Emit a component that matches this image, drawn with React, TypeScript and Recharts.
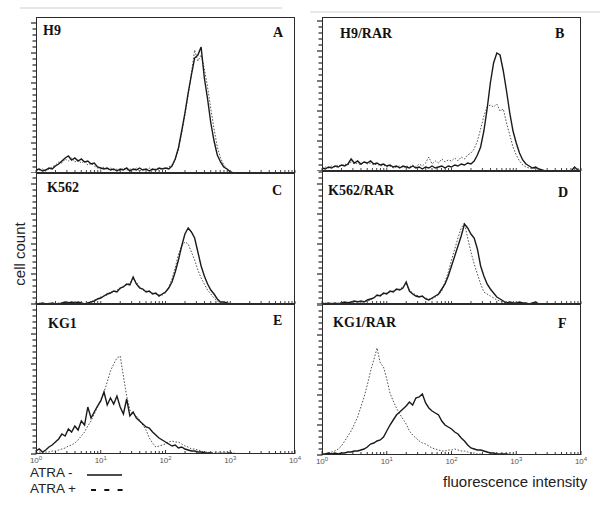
import React from 'react';
import { LineChart, Line, XAxis, YAxis } from 'recharts';

// log10 fluorescence intensity channels (10^0 .. 10^4)
const logIntensity = [
  0, 0.05, 0.1, 0.15, 0.2, 0.25, 0.3, 0.35, 0.4, 0.45,
  0.5, 0.55, 0.6, 0.65, 0.7, 0.75, 0.8, 0.85, 0.9, 0.95,
  1, 1.05, 1.1, 1.15, 1.2, 1.25, 1.3, 1.35, 1.4, 1.45,
  1.5, 1.55, 1.6, 1.65, 1.7, 1.75, 1.8, 1.85, 1.9, 1.95,
  2, 2.05, 2.1, 2.15, 2.2, 2.25, 2.3, 2.35, 2.4, 2.45,
  2.5, 2.55, 2.6, 2.65, 2.7, 2.75, 2.8, 2.85, 2.9, 2.95,
  3, 3.05, 3.1, 3.15, 3.2, 3.25, 3.3, 3.35, 3.4, 3.45,
  3.5, 3.55, 3.6, 3.65, 3.7, 3.75, 3.8, 3.85, 3.9, 3.95,
  4,
];

const h9Minus = [
  3, 4, 2, 3, 5, 4, 7, 9, 12, 15,
  17, 13, 15, 12, 14, 11, 12, 9, 10, 6,
  5, 4, 5, 3, 4, 2, 4, 3, 5, 2,
  4, 3, 5, 3, 4, 2, 4, 3, 5, 4,
  5, 4, 7, 14, 25, 42, 60, 80, 98, 115,
  118, 126, 95, 74, 50, 32, 18, 11, 6, 4,
  1, 0, 0, 0, 0, 0, 0, 0, 0, 0,
  0, 0, 0, 0, 0, 0, 0, 0, 0, 0,
  0,
];
const h9Plus = [
  2, 3, 4, 2, 4, 6, 8, 11, 10, 14,
  12, 15, 11, 13, 10, 12, 8, 10, 7, 5,
  4, 6, 3, 5, 3, 4, 2, 5, 3, 4,
  3, 5, 2, 4, 3, 5, 3, 4, 3, 5,
  4, 6, 8, 13, 24, 40, 58, 78, 100, 123,
  112, 118, 104, 86, 64, 44, 26, 15, 8, 4,
  2, 0, 0, 0, 0, 0, 0, 0, 0, 0,
  0, 0, 0, 0, 0, 0, 0, 0, 0, 0,
  0,
];

const h9RarMinus = [
  3, 2, 4, 3, 5, 4, 6, 5, 7, 12,
  8, 10, 7, 9, 8, 10, 7, 8, 6, 7,
  5, 6, 4, 5, 3, 5, 4, 3, 5, 3,
  4, 2, 4, 3, 5, 3, 4, 5, 3, 5,
  4, 6, 5, 7, 6, 8, 7, 10, 16, 24,
  40, 62, 88, 108, 118, 116, 100, 80, 58, 40,
  28, 18, 11, 7, 5, 3, 4, 2, 1, 0,
  0, 0, 0, 0, 0, 0, 0, 0, 4, 1,
  0,
];
const h9RarPlus = [
  2, 4, 3, 5, 4, 6, 5, 7, 6, 9,
  7, 8, 6, 9, 7, 8, 6, 7, 5, 6,
  4, 5, 3, 4, 5, 3, 5, 4, 6, 4,
  7, 5, 8, 14, 7, 10, 8, 12, 9, 11,
  10, 13, 10, 14, 12, 16, 18, 22, 30, 42,
  55, 64, 66, 64, 67, 60, 62, 48, 36, 24,
  16, 10, 6, 4, 3, 2, 3, 1, 0, 0,
  0, 0, 0, 0, 0, 0, 0, 0, 0, 0,
  0,
];

const k562Minus = [
  0, 0, 1, 0, 0, 1, 0, 0, 1, 2,
  1, 2, 1, 2, 1, 0, 1, 2, 3, 5,
  6, 8, 10, 11, 13, 12, 16, 17, 20, 19,
  27, 20, 16, 15, 12, 13, 10, 11, 8, 10,
  12, 16, 22, 32, 44, 58, 70, 76, 72, 66,
  52, 38, 28, 20, 14, 10, 5, 2, 2, 1,
  0, 0, 0, 0, 0, 0, 0, 0, 0, 0,
  0, 0, 0, 0, 0, 0, 0, 0, 0, 0,
  0,
];
const k562Plus = [
  0, 1, 0, 0, 1, 0, 0, 1, 0, 1,
  2, 1, 2, 1, 1, 0, 1, 2, 4, 5,
  7, 8, 9, 12, 12, 14, 15, 18, 19, 21,
  25, 22, 17, 14, 13, 12, 11, 10, 9, 9,
  11, 17, 25, 36, 50, 58, 62, 60, 52, 44,
  34, 26, 20, 14, 10, 6, 3, 1, 1, 0,
  0, 0, 0, 0, 0, 0, 0, 0, 0, 0,
  0, 0, 0, 0, 0, 0, 0, 0, 0, 0,
  0,
];

const k562RarMinus = [
  1, 0, 1, 0, 1, 0, 1, 2, 1, 2,
  3, 2, 3, 2, 4, 5, 6, 9, 8, 11,
  10, 13, 12, 15, 14, 16, 22, 13, 10, 8,
  7, 8, 5, 4, 6, 8, 10, 15, 20, 28,
  38, 48, 58, 68, 80, 76, 70, 66, 55, 38,
  28, 20, 15, 11, 7, 5, 3, 1, 2, 1,
  1, 2, 1, 1, 0, 1, 2, 0, 0, 0,
  0, 0, 0, 0, 0, 0, 0, 0, 0, 0,
  0,
];
const k562RarPlus = [
  0, 1, 0, 1, 0, 1, 1, 1, 2, 1,
  2, 3, 2, 3, 3, 4, 6, 8, 9, 10,
  11, 12, 13, 14, 15, 17, 20, 14, 11, 9,
  8, 7, 6, 5, 5, 7, 9, 13, 22, 32,
  44, 55, 66, 76, 81, 66, 52, 40, 30, 20,
  12, 10, 8, 6, 4, 3, 2, 1, 1, 0,
  0, 0, 0, 0, 0, 0, 0, 0, 0, 0,
  0, 0, 0, 0, 0, 0, 0, 0, 0, 0,
  0,
];

const kg1Minus = [
  3, 5, 2, 4, 7, 9, 12, 15, 20, 18,
  25, 22, 28, 24, 33, 29, 47, 36, 42, 48,
  53, 62, 49, 56, 50, 58, 47, 40, 55, 38,
  42, 36, 33, 30, 27, 26, 22, 19, 16, 14,
  12, 10, 8, 9, 6, 7, 5, 4, 3, 3,
  2, 2, 1, 1, 1, 0, 0, 0, 0, 0,
  1, 0, 0, 0, 0, 0, 0, 0, 0, 0,
  0, 0, 0, 0, 0, 0, 0, 0, 0, 0,
  0,
];
const kg1Plus = [
  1, 2, 1, 2, 2, 3, 3, 4, 5, 6,
  8, 9, 11, 14, 18, 22, 28, 33, 40, 47,
  54, 62, 72, 83, 90, 96, 98, 78, 58, 44,
  40, 38, 34, 29, 24, 16, 11, 7, 8, 9,
  10, 12, 13, 12, 12, 10, 8, 7, 5, 5,
  4, 3, 2, 2, 1, 1, 1, 1, 1, 1,
  2, 1, 0, 0, 0, 0, 0, 0, 0, 0,
  0, 0, 0, 0, 0, 0, 0, 0, 0, 0,
  0,
];

const kg1RarMinus = [
  1, 1, 2, 1, 2, 1, 2, 2, 3, 3,
  4, 4, 5, 6, 8, 11, 12, 14, 15, 18,
  24, 30, 35, 40, 43, 46, 49, 53, 50, 57,
  58, 61, 52, 47, 44, 42, 40, 34, 30, 28,
  26, 23, 21, 17, 14, 10, 7, 6, 5, 5,
  4, 3, 2, 2, 1, 1, 1, 1, 0, 0,
  0, 0, 0, 0, 0, 0, 0, 0, 0, 0,
  0, 0, 0, 0, 0, 0, 0, 0, 0, 0,
  0,
];
const kg1RarPlus = [
  0, 1, 2, 3, 4, 6, 9, 14, 19, 24,
  31, 38, 48, 58, 70, 84, 95, 107, 92, 88,
  76, 62, 54, 47, 41, 36, 31, 24, 20, 17,
  14, 12, 11, 9, 7, 6, 5, 4, 4, 5,
  5, 6, 5, 4, 4, 3, 2, 2, 1, 1,
  0, 0, 0, 0, 0, 0, 0, 0, 0, 0,
  0, 0, 0, 0, 0, 0, 0, 0, 0, 0,
  0, 0, 0, 0, 0, 0, 0, 0, 0, 0,
  0,
];

// axis ticks: decades (labelled) and log minor ticks
const decadeTicks = [0, 1, 2, 3, 4];
const minorTicks = [
  0.301, 0.477, 0.602, 0.699, 0.778, 0.845, 0.903, 0.954,
  1.301, 1.477, 1.602, 1.699, 1.778, 1.845, 1.903, 1.954,
  2.301, 2.477, 2.602, 2.699, 2.778, 2.845, 2.903, 2.954,
  3.301, 3.477, 3.602, 3.699, 3.778, 3.845, 3.903, 3.954,
];
const countTicks = [
  0, 6, 12, 18, 24, 30, 36, 42, 48, 54, 60, 66, 72, 78, 84, 90, 96, 102,
  108, 114, 120, 126, 132, 138, 144, 150,
];

const panelNames = ['H9', 'H9/RAR', 'K562', 'K562/RAR', 'KG1', 'KG1/RAR'];
const panelLetters = ['A', 'B', 'C', 'D', 'E', 'F'];
const minusSeries = [h9Minus, h9RarMinus, k562Minus, k562RarMinus, kg1Minus, kg1RarMinus];
const plusSeries = [h9Plus, h9RarPlus, k562Plus, k562RarPlus, kg1Plus, kg1RarPlus];

// layout (pixels)
const PLOT_W = 259;
const Y_AXIS_W = 6;
const RIGHT_PAD = 12;
const layout = [
  { left: 36, top: 17, height: 156, bottom: false, nameX: 43, nameY: 35, letterX: 273, letterY: 37 },
  { left: 322, top: 17, height: 154, bottom: false, nameX: 340, nameY: 38, letterX: 555, letterY: 38 },
  { left: 36, top: 173, height: 131, bottom: false, nameX: 47, nameY: 192, letterX: 272, letterY: 195 },
  { left: 322, top: 171, height: 133, bottom: false, nameX: 328, nameY: 195, letterX: 558, letterY: 197 },
  { left: 36, top: 304, height: 150, bottom: true, nameX: 48, nameY: 328, letterX: 273, letterY: 325 },
  { left: 322, top: 304, height: 151, bottom: true, nameX: 333, nameY: 327, letterX: 558, letterY: 328 },
];

const YTick = (props: any) => {
  const { x, y, index } = props;
  const long = index % 5 === 0;
  return <line x1={x - (long ? 5 : 3.5)} x2={x + 0.5} y1={y} y2={y} stroke="#222" strokeWidth={1.2} />;
};

const XTickInside = (props: any) => {
  const { x, y } = props;
  return <line x1={x} x2={x} y1={y - 3} y2={y} stroke="#444" strokeWidth={1} />;
};

const XTickLabelled = (props: any) => {
  const { x, y, payload } = props;
  const v = payload.value;
  const isDecade = decadeTicks.indexOf(v) >= 0;
  return (
    <g>
      <line x1={x} x2={x} y1={y - (isDecade ? 4 : 3)} y2={y} stroke="#333" strokeWidth={1} />
      {isDecade ? (
        <text x={x} y={y + 8.5} textAnchor="middle" fontSize={8} fill="#555" fontFamily="'Liberation Sans', Arial, sans-serif">
          10
          <tspan dy={-3} fontSize={6}>{String(v)}</tspan>
        </text>
      ) : null}
    </g>
  );
};

const Panel = ({ idx }: { idx: number }) => {
  const p = layout[idx];
  const minus = minusSeries[idx];
  const plus = plusSeries[idx];
  const rows = logIntensity.map((x, i) => ({ x, minus: minus[i], plus: plus[i] }));
  const xAxisH = p.bottom ? 18 : 0;
  const yTicks = countTicks.filter((t) => t <= p.height);
  return (
    <>
      <div style={{ position: 'absolute', left: p.left - Y_AXIS_W, top: p.top }}>
        <LineChart
          width={PLOT_W + Y_AXIS_W + RIGHT_PAD}
          height={p.height + xAxisH}
          data={rows}
          margin={{ top: 0, right: RIGHT_PAD, bottom: 0, left: 0 }}
        >
          <XAxis
            type="number"
            dataKey="x"
            domain={[0, 4]}
            ticks={[...decadeTicks, ...minorTicks]}
            mirror={!p.bottom}
            height={p.bottom ? xAxisH : 2}
            tickSize={0}
            tickMargin={0}
            axisLine={false}
            tickLine={false}
            tick={p.bottom ? <XTickLabelled /> : <XTickInside />}
            interval={0}
            allowDataOverflow
          />
          <YAxis
            type="number"
            domain={[0, p.height]}
            ticks={yTicks}
            width={Y_AXIS_W}
            tickSize={0}
            tickMargin={0}
            axisLine={false}
            tickLine={false}
            tick={<YTick />}
            interval={0}
            allowDataOverflow
          />
          <Line
            type="linear"
            dataKey="plus"
            stroke="#555"
            strokeWidth={1}
            strokeDasharray="1.6 1.6"
            dot={false}
            isAnimationActive={false}
          />
          <Line
            type="linear"
            dataKey="minus"
            stroke="#1a1a1a"
            strokeWidth={1.4}
            dot={false}
            isAnimationActive={false}
          />
        </LineChart>
      </div>
      <div
        style={{
          position: 'absolute',
          left: p.left,
          top: p.top,
          width: PLOT_W,
          height: p.height,
          border: '1.5px solid #2a2a2a',
          boxSizing: 'border-box',
          pointerEvents: 'none',
        }}
      />
    </>
  );
};

const serif = "'Liberation Serif', 'Times New Roman', serif";
const sans = "'Liberation Sans', Arial, sans-serif";

export default function App() {
  return (
    <div style={{ position: 'absolute', left: 0, top: 0, width: 600, height: 510, background: '#fff', overflow: 'hidden' }}>
      <div style={{ position: 'absolute', left: 20, top: 7, width: 262, height: 2, background: '#e6e6e6' }} />
      <div style={{ position: 'absolute', left: 310, top: 11, width: 290, height: 2, background: '#e9e9e9' }} />
      {layout.map((_, i) => (
        <Panel key={i} idx={i} />
      ))}
      <svg width={600} height={510} style={{ position: 'absolute', left: 0, top: 0, pointerEvents: 'none' }}>
        {layout.map((p, i) => (
          <g key={i}>
            <text x={p.nameX} y={p.nameY} fontFamily={serif} fontWeight="bold" fontSize={14} fill="#111">
              {panelNames[i]}
            </text>
            <text x={p.letterX} y={p.letterY} fontFamily={serif} fontWeight="bold" fontSize={14} fill="#111">
              {panelLetters[i]}
            </text>
          </g>
        ))}
        <text
          x={25}
          y={254}
          textAnchor="middle"
          fontFamily={sans}
          fontSize={15}
          fill="#222"
          transform="rotate(-90, 25, 254)"
        >
          cell count
        </text>
        <text x={443} y={487} fontFamily={sans} fontSize={15} fill="#222">
          fluorescence intensity
        </text>
        <text x={30} y={476.5} fontFamily={sans} fontSize={13.5} fill="#222">
          ATRA -
        </text>
        <line x1={87} x2={122} y1={475} y2={475} stroke="#111" strokeWidth={1.5} />
        <text x={30} y={492.5} fontFamily={sans} fontSize={13.5} fill="#222">
          ATRA +
        </text>
        <line x1={91} x2={124} y1={490} y2={490} stroke="#111" strokeWidth={2} strokeDasharray="5 8.3" />
      </svg>
    </div>
  );
}
